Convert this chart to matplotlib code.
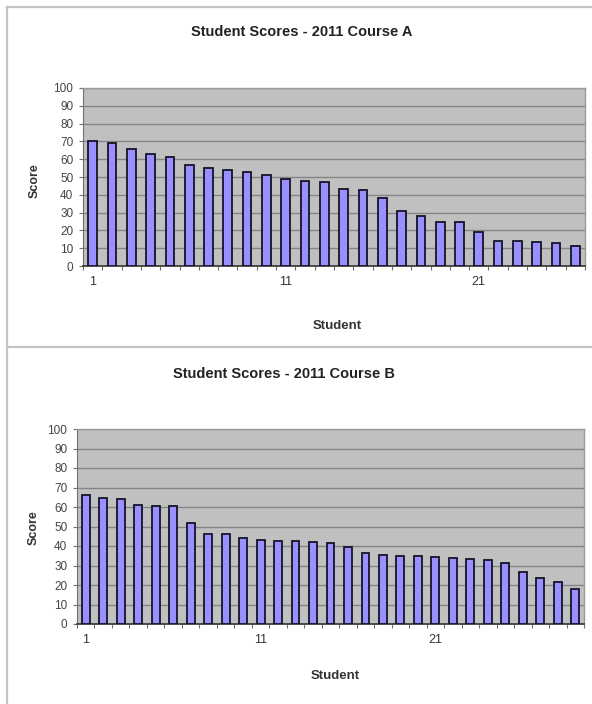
import numpy as np
import matplotlib.pyplot as plt
from matplotlib.lines import Line2D

plt.rcParams['font.family'] = ['Liberation Sans', 'DejaVu Sans']

# Scores per student, sorted high to low
scores_a = [70, 69, 66, 63, 61, 57, 55, 54, 53, 51, 49, 48, 47, 43, 42.5,
            38, 31, 28, 25, 24.5, 19, 14, 14, 13.5, 13, 11]
scores_b = [66, 64.5, 64, 61, 60.5, 60.5, 52, 46, 46, 44, 43, 42.5, 42.5, 42,
            41.5, 39.5, 36.5, 35.5, 35, 35, 34.5, 34, 33.5, 33, 31.5, 26.5,
            23.5, 21.5, 18]
titles = ["Student Scores - 2011 Course A", "Student Scores - 2011 Course B"]
x_ticks = [1, 11, 21]
y_ticks = list(range(0, 101, 10))

W, H = 592, 704
fig = plt.figure(figsize=(W / 100, H / 100), dpi=100)


def px(x, y):
    # pixel position -> figure fraction
    return x / W, 1 - y / H


def draw_chart(rect, scores, title, title_xy, ylab_xy, xlab_xy):
    l, t, r, b = rect
    ax = fig.add_axes([l / W, 1 - b / H, (r - l) / W, (b - t) / H])
    n = len(scores)
    x = np.arange(1, n + 1)
    ax.set_facecolor('#c0c0c0')
    ax.bar(x, scores, width=0.45, color='#9a8fff', edgecolor='#141428',
           linewidth=1.3, zorder=3)
    ax.set_xlim(0.5, n + 0.5)
    ax.set_ylim(0, 100)
    ax.set_yticks(y_ticks)
    ax.yaxis.grid(True, color='#858585', linewidth=1.0, zorder=1)
    ax.set_axisbelow(True)
    ax.set_xticks(x_ticks)
    ax.set_xticks(np.arange(0.5, n + 1, 1), minor=True)
    ax.tick_params(axis='x', which='major', length=0, pad=7,
                   labelsize=9, labelcolor='#333333')
    ax.tick_params(axis='x', which='minor', length=3, color='#707070',
                   width=0.8)
    ax.tick_params(axis='y', length=3, color='#707070', width=0.8,
                   labelsize=8.5, labelcolor='#444444', pad=4)
    for side in ('top', 'right'):
        ax.spines[side].set_color('#9a9a9a')
        ax.spines[side].set_linewidth(1.0)
    ax.spines['left'].set_color('#707070')
    ax.spines['bottom'].set_color('#404040')
    ax.spines['bottom'].set_linewidth(1.3)

    fig.text(*px(*title_xy), title, ha='center', va='center',
             fontsize=10.5, fontweight='bold', color='#222222')
    fig.text(*px(*ylab_xy), 'Score', ha='center', va='center', rotation=90,
             fontsize=9, fontweight='bold', color='#333333')
    fig.text(*px(*xlab_xy), 'Student', ha='center', va='center',
             fontsize=9.5, fontweight='bold', color='#333333')


draw_chart((83, 88, 585, 266), scores_a, titles[0], (302, 32), (35, 181),
           (337, 326))
draw_chart((77, 429, 584, 624), scores_b, titles[1], (284, 374), (34, 528),
           (335, 676))

# frame lines around the two chart boxes
border = dict(color='#c4c4c4', linewidth=1.6, transform=fig.transFigure)
fig.add_artist(Line2D([7 / W, 1], [1 - 7 / H, 1 - 7 / H], **border))
fig.add_artist(Line2D([7 / W, 7 / W], [0, 1 - 7 / H], **border))
fig.add_artist(Line2D([7 / W, 1], [1 - 347 / H, 1 - 347 / H], **border))

fig.savefig('out.png', dpi=100, facecolor='white')
